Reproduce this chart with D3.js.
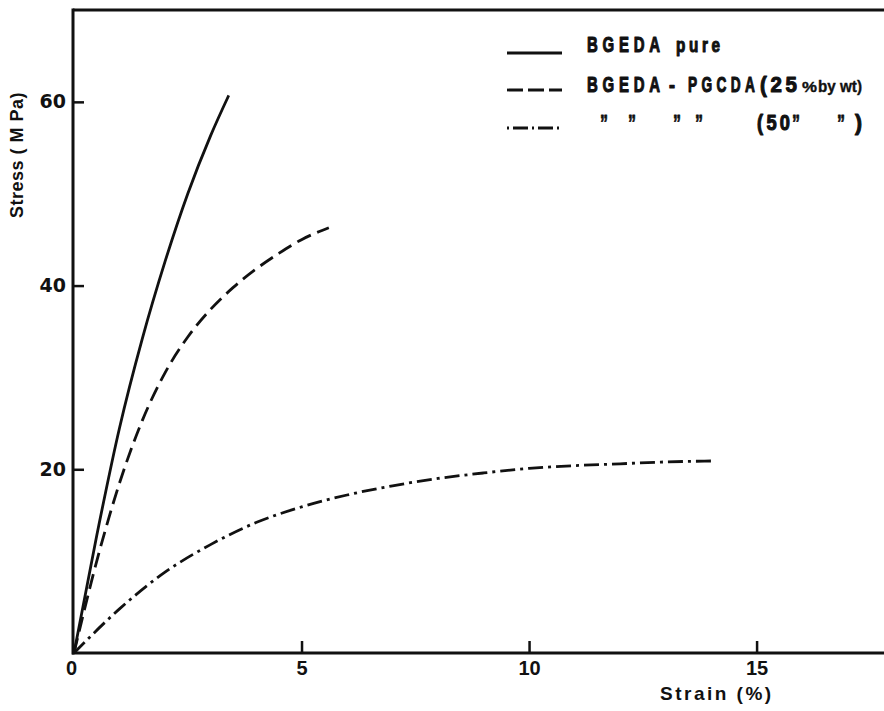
<!DOCTYPE html>
<html>
<head>
<meta charset="utf-8">
<script src="https://cdn.jsdelivr.net/npm/d3@7/dist/d3.min.js"></script>
<style>
  html, body { margin: 0; padding: 0; background: #fff; }
  svg { display: block; }
</style>
</head>
<body>
<svg id="chart" width="884" height="711"></svg>
<script>
// Stress–strain curves for BGEDA and BGEDA/PGCDA blends
const pureStrain = [0, 0.5, 1, 1.5, 2, 2.5, 3, 3.4];
const pureStress = [0, 12.8, 24.5, 34.2, 42.6, 50, 56.3, 60.7];

const blend25Strain = [0, 0.5, 1, 1.5, 2, 2.5, 3, 3.5, 4, 4.5, 5, 5.6];
const blend25Stress = [0, 10, 18.5, 25.3, 30.5, 34.4, 37.4, 39.8, 41.8, 43.5, 45.0, 46.3];

const blend50Strain = [0, 1, 2, 3, 4, 5, 6, 7, 8, 9, 10, 11, 12, 13, 14];
const blend50Stress = [0, 4.8, 8.8, 11.8, 14.2, 15.9, 17.2, 18.2, 19.0, 19.6, 20.1, 20.4, 20.6, 20.8, 20.9];

const xTicks = [0, 5, 10, 15];
const yTicks = [20, 40, 60];

const svg = d3.select("#chart");
const x = d3.scaleLinear().domain([0, 17.8]).range([74, 884]);
const y = d3.scaleLinear().domain([0, 70]).range([653, 10]);

const ink = "#111";
const sans = "'Liberation Sans', Arial, sans-serif";

// frame: top edge
svg.append("line")
  .attr("x1", x(0) - 1).attr("x2", 884)
  .attr("y1", y(70)).attr("y2", y(70))
  .attr("stroke", ink).attr("stroke-width", 3);

// x axis
const xAxis = svg.append("g")
  .attr("transform", `translate(0,${y(0)})`)
  .call(d3.axisBottom(x).tickValues(xTicks).tickSize(-12).tickPadding(8).tickFormat(d3.format("d")));
xAxis.select(".domain").attr("stroke", ink).attr("stroke-width", 3)
  .attr("d", `M${x(0) - 2},0H884`);
xAxis.selectAll(".tick line").attr("stroke", ink).attr("stroke-width", 2.5)
  .filter(d => d === 0).remove();
xAxis.selectAll(".tick text")
  .attr("fill", ink)
  .style("font-family", sans)
  .style("font-weight", "bold")
  .style("font-size", "20px")
  .attr("dx", d => d === 0 ? -3 : 0);

// y axis
const yAxis = svg.append("g")
  .attr("transform", `translate(${x(0) - 1},0)`)
  .call(d3.axisLeft(y).tickValues(yTicks).tickSize(-11).tickPadding(7).tickFormat(d3.format("d")));
yAxis.select(".domain").attr("stroke", ink).attr("stroke-width", 3)
  .attr("d", `M0,${y(70) - 1.5}V${y(0) + 1.5}`);
yAxis.selectAll(".tick line").attr("stroke", ink).attr("stroke-width", 2.5);
yAxis.selectAll(".tick text")
  .attr("fill", ink)
  .style("font-family", "'DejaVu Sans', sans-serif")
  .style("font-weight", "bold")
  .style("font-size", "19px");

// axis titles
svg.append("text")
  .attr("transform", `translate(23,155) rotate(-90)`)
  .attr("text-anchor", "middle")
  .attr("fill", ink)
  .style("font-family", sans)
  .style("font-weight", "bold")
  .style("font-size", "18px")
  .style("letter-spacing", "0.5px")
  .text("Stress ( M Pa)");

svg.append("text")
  .attr("x", 660).attr("y", 700)
  .attr("fill", ink)
  .style("font-family", sans)
  .style("font-weight", "bold")
  .style("font-size", "19px")
  .style("letter-spacing", "2.5px")
  .text("Strain (%)");

// curves
const series = [
  { xs: pureStrain, ys: pureStress, dash: null },
  { xs: blend25Strain, ys: blend25Stress, dash: "15,7" },
  { xs: blend50Strain, ys: blend50Stress, dash: "15,5,3,5" }
];
const line = d3.line().x(d => x(d[0])).y(d => y(d[1])).curve(d3.curveMonotoneX);
series.forEach(s => {
  svg.append("path")
    .datum(s.xs.map((v, i) => [v, s.ys[i]]))
    .attr("d", line)
    .attr("fill", "none")
    .attr("stroke", ink)
    .attr("stroke-width", 2.8)
    .attr("stroke-dasharray", s.dash);
});

// legend keys
const legendRows = [
  { y: 53, dash: null },
  { y: 90, dash: "16,5" },
  { y: 128, dash: "2,4,15,4" }
];
legendRows.forEach(r => {
  svg.append("line")
    .attr("x1", 507).attr("x2", 562)
    .attr("y1", r.y).attr("y2", r.y)
    .attr("stroke", ink).attr("stroke-width", 2.8)
    .attr("stroke-dasharray", r.dash);
});

// condensed, heavy legend lettering: each piece is squeezed to its width
function piece(str, x0, base, size, width, spacing, heavy) {
  const g = svg.append("g").attr("transform", `translate(${x0},${base})`);
  const t = g.append("text")
    .attr("fill", ink)
    .attr("stroke", ink)
    .attr("stroke-width", heavy == null ? 1.1 : heavy)
    .attr("stroke-linejoin", "round")
    .style("font-family", sans)
    .style("font-weight", "bold")
    .style("font-size", size + "px")
    .style("letter-spacing", (spacing || 0) + "px")
    .text(str);
  if (width) {
    const natural = t.node().getComputedTextLength() - (spacing || 0);
    g.attr("transform", `translate(${x0},${base}) scale(${width / natural},1)`);
  }
  return t;
}

piece("BGEDA", 587, 52, 22, 73, 7);
piece("pure", 676, 52, 21, 44, 5);

piece("BGEDA", 587, 92, 22, 73, 7);
piece("-", 669, 92, 22, 6, 0);
piece("PGCDA", 688, 92, 22, 67, 7);
piece("(25", 760, 92, 22, 37, 4);
piece("%", 802, 92, 15, 15, 0, 0.4);
piece("by wt)", 818, 92, 17, 44, 0, 0.4);

[600, 628, 673, 695].forEach(p => piece("\u201D", p, 132, 24, 8, 0, 0.8));
piece("(50", 757, 130, 22, 33, 4);
piece("\u201D", 792, 132, 24, 8, 0, 0.8);
piece("\u201D", 837, 132, 24, 8, 0, 0.8);
piece(")", 855, 130, 22, 7, 0);
</script>
</body>
</html>
